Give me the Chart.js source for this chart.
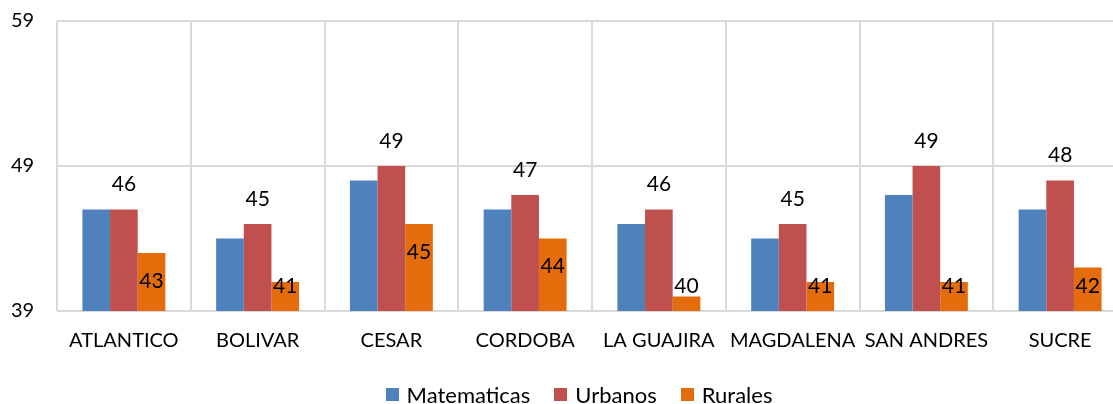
<!DOCTYPE html>
<html>
<head>
<meta charset="utf-8">
<script src="https://cdn.jsdelivr.net/npm/chart.js@4/dist/chart.umd.min.js"></script>
<style>
html,body{margin:0;padding:0;background:#fff;overflow:hidden;width:1113px;height:404px;}
#wrap{position:absolute;left:0;top:-15px;width:1158px;height:419px;}
#legend{position:absolute;left:0;top:380px;width:1158px;height:28px;display:flex;justify-content:center;align-items:center;
  font-family:Lato,'Open Sans',sans-serif;font-size:22px;color:#000;}
#legend .item{display:flex;align-items:center;margin:0 12px;}
#legend .sw{width:13px;height:13px;margin-right:8px;}
</style>
</head>
<body>
<div id="wrap"><canvas id="c" width="1158" height="419"></canvas></div>
<div id="legend"></div>
<script>
const categories = ["ATLANTICO","BOLIVAR","CESAR","CORDOBA","LA GUAJIRA","MAGDALENA","SAN ANDRES","SUCRE"];
const matematicas = [46,44,48,46,45,44,47,46];
const urbanos = [46,45,49,47,46,45,49,48];
const rurales = [43,41,45,44,40,41,41,42];
const yTicks = [39,49,59];
const seriesNames = ["Matematicas","Urbanos","Rurales"];
const seriesColors = ["#4F81BD","#C0504D","#E46C0A"];

const FONT = "Lato, 'Open Sans', sans-serif";

const labelPlugin = {
  id: 'vlabels',
  afterDatasetsDraw(chart) {
    const ctx = chart.ctx;
    ctx.save();
    ctx.font = "21px " + FONT;
    ctx.fillStyle = "#000";
    ctx.textAlign = "center";
    ctx.textBaseline = "middle";
    const base = chart.scales.y.getPixelForValue(yTicks[0]);
    chart.getDatasetMeta(1).data.forEach((bar, i) => {
      ctx.fillText(String(urbanos[i]), bar.x, bar.y - 25);
    });
    chart.getDatasetMeta(2).data.forEach((bar, i) => {
      const y = Math.min(bar.y + 28, base - 25);
      ctx.fillText(String(rurales[i]), bar.x, y);
    });
    ctx.restore();
  }
};

const chart = new Chart(document.getElementById('c'), {
  type: 'bar',
  data: {
    labels: categories,
    datasets: [
      {label: seriesNames[0], data: matematicas, backgroundColor: seriesColors[0]},
      {label: seriesNames[1], data: urbanos, backgroundColor: seriesColors[1]},
      {label: seriesNames[2], data: rurales, backgroundColor: seriesColors[2]}
    ]
  },
  options: {
    responsive: false,
    animation: false,
    layout: {padding: {left: 11, right: 31, top: 0, bottom: 46}},
    datasets: {bar: {categoryPercentage: 0.62, barPercentage: 1.0}},
    plugins: {tooltip: {enabled: false}, legend: {display: false}},
    scales: {
      x: {
        grid: {color: '#d9d9d9', lineWidth: 2, drawTicks: false, offset: true},
        border: {display: false},
        ticks: {font: {family: FONT, size: 20}, color: '#000', padding: 18, maxRotation: 0, autoSkip: false},
        afterFit(scale) { scale.height = 47; }
      },
      y: {
        min: yTicks[0], max: yTicks[yTicks.length - 1],
        afterBuildTicks(scale) { scale.ticks = yTicks.map(v => ({value: v})); },
        grid: {color: '#d9d9d9', lineWidth: 2, drawTicks: false},
        border: {display: false},
        ticks: {font: {family: FONT, size: 20}, color: '#000', padding: 24, crossAlign: 'far'},
        afterFit(scale) { scale.width = 46; }
      }
    }
  },
  plugins: [labelPlugin]
});

const lg = document.getElementById('legend');
chart.data.datasets.forEach(ds => {
  const it = document.createElement('div');
  it.className = 'item';
  const sw = document.createElement('span');
  sw.className = 'sw';
  sw.style.background = ds.backgroundColor;
  const tx = document.createElement('span');
  tx.textContent = ds.label;
  it.appendChild(sw); it.appendChild(tx);
  lg.appendChild(it);
});
</script>
</body>
</html>
